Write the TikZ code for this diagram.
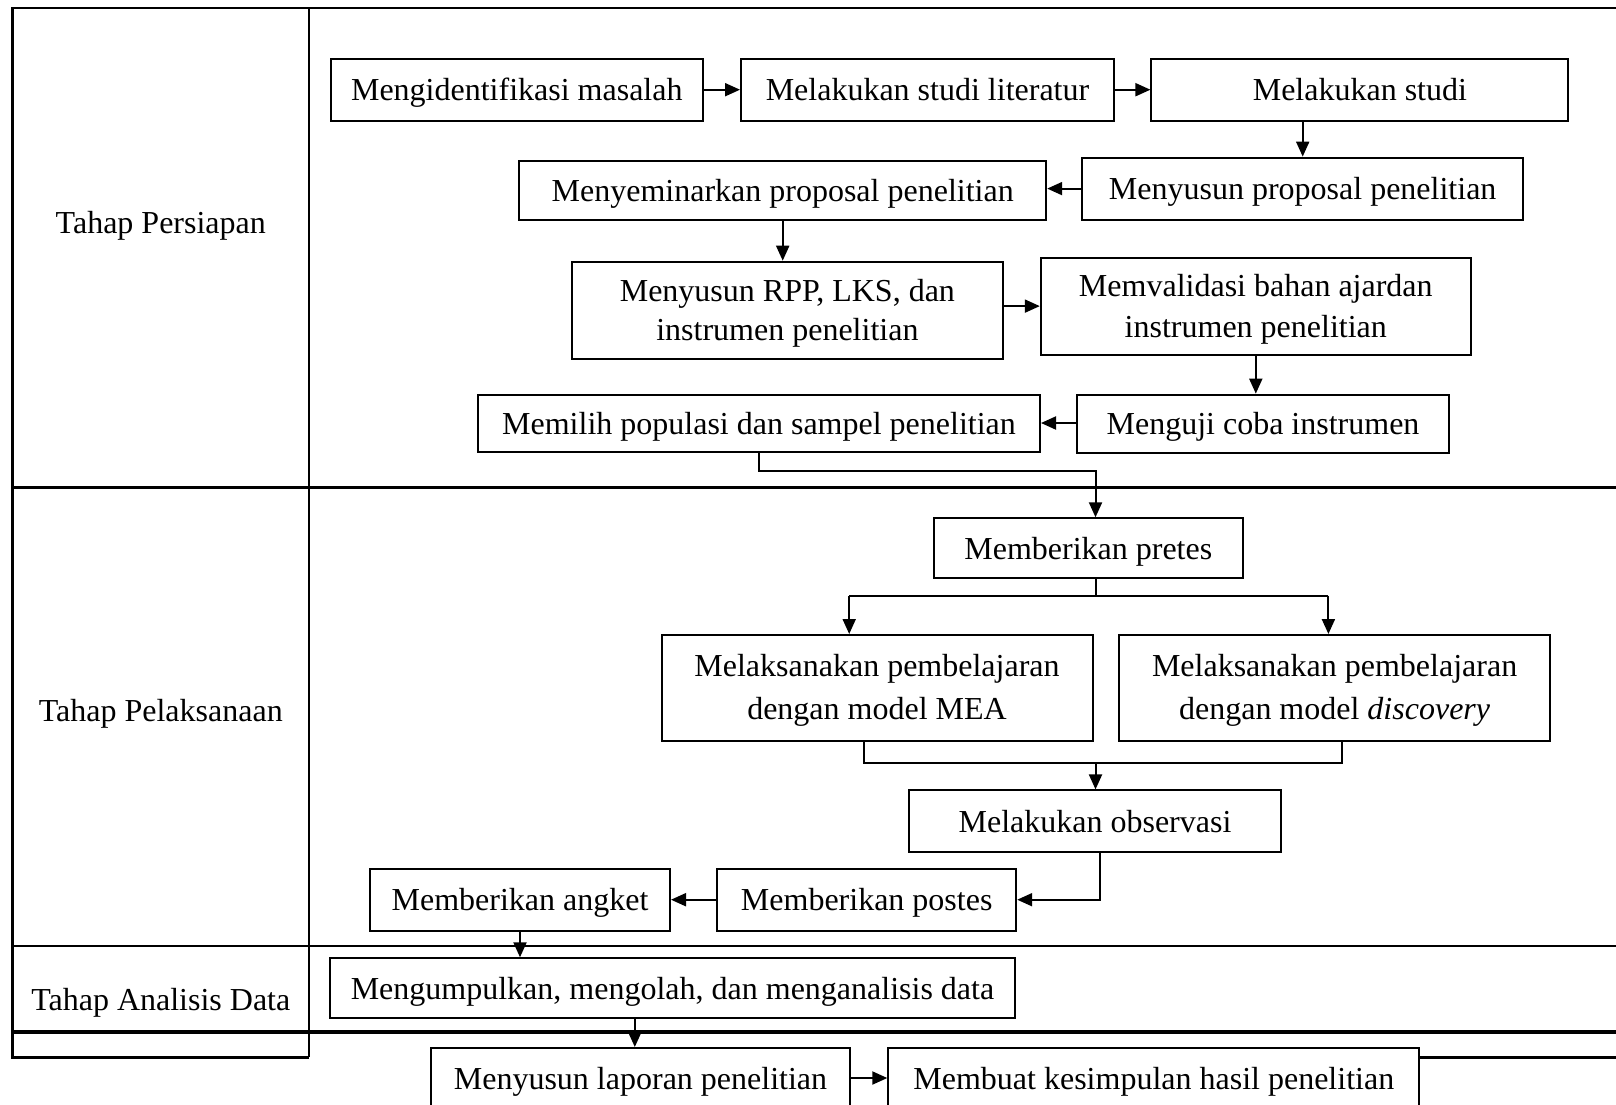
\documentclass[tikz,border=0pt]{standalone}
\usepackage{fontspec}
\setmainfont{Liberation Serif}
\usetikzlibrary{arrows.meta}
\begin{document}
\begin{tikzpicture}[x=0.5pt,y=-0.5pt,
  boxbase/.style={draw, fill=white, line width=1pt, inner sep=0pt, align=center,
              font=\fontsize{16}{21.6}\selectfont},
  box/.style={boxbase, text height=11pt, text depth=0pt},
  boxtwo/.style={boxbase},
  tline/.style={line width=1.2pt},
  arr/.style={line width=1pt, -{Triangle[length=7.5pt,width=6.5pt]}},
  conn/.style={line width=1pt},
  lbl/.style={text height=11pt, text depth=0pt, font=\fontsize{16}{20}\selectfont}]
\clip (0,0) rectangle (1616,1104);
\fill[white] (0,0) rectangle (1616,1104);
% table
\draw[tline] (1616,8.2) -- (12.4,8.2) -- (12.4,1057.4) -- (309,1057.4);
\draw[tline] (309,8.2) -- (309,1057.4);
\draw[tline] (12.4,487.5) -- (1616,487.5);
\draw[tline] (12.4,946) -- (1616,946);
\draw[line width=1.9pt] (12.4,1031.6) -- (1616,1031.6);
% phase labels
\node[lbl] (t1) at (160.8,222.6) {Tahap Persiapan};
\node[lbl] (t2) at (160.8,710) {Tahap Pelaksanaan};
\node[lbl] (t3) at (160.8,999.7) {Tahap Analisis Data};
% boxes
\node[box, minimum width=186pt, minimum height=31pt] (n1) at (516.8,89.7) {Mengidentifikasi masalah};
\node[box, minimum width=186.5pt, minimum height=31pt] (n2) at (927.5,89.7) {Melakukan studi literatur};
\node[box, minimum width=208.5pt, minimum height=31pt] (n3) at (1359.9,89.7) {Melakukan studi};
\node[box, minimum width=220.5pt, minimum height=31pt] (n4) at (1302.7,188.6) {Menyusun proposal penelitian};
\node[box, minimum width=263.5pt, minimum height=29.5pt] (n5) at (782.7,190.1) {Menyeminarkan proposal penelitian};
\node[boxtwo, text depth=-9pt, font=\fontsize{16}{19.6}\selectfont, minimum width=215.5pt, minimum height=48.5pt] (n6) at (787.4,310.2) {Menyusun RPP, LKS, dan\\instrumen penelitian};
\node[boxtwo, text depth=-9pt, font=\fontsize{16}{20.6}\selectfont, minimum width=215pt, minimum height=48.5pt] (n7) at (1255.8,306.1) {Memvalidasi bahan ajardan\\instrumen penelitian};
\node[box, minimum width=186pt, minimum height=29pt] (n8) at (1263,423.6) {Menguji coba instrumen};
\node[box, minimum width=281pt, minimum height=28.5pt] (n9) at (759,423) {Memilih populasi dan sampel penelitian};
\node[box, minimum width=154.5pt, minimum height=30pt] (n10) at (1088.3,548.3) {Memberikan pretes};
\node[boxtwo, text depth=1pt, minimum width=215.5pt, minimum height=53pt] (n11) at (877,688) {Melaksanakan pembelajaran\\dengan model MEA};
\node[boxtwo, text depth=1pt, minimum width=215.5pt, minimum height=53pt] (n12) at (1334.6,688) {Melaksanakan pembelajaran\\dengan model \textit{discovery}};
\node[box, minimum width=186pt, minimum height=31pt] (n13) at (1095,821.4) {Melakukan observasi};
\node[box, minimum width=149.5pt, minimum height=31pt] (n14) at (866.7,899.7) {Memberikan postes};
\node[box, minimum width=150pt, minimum height=31pt] (n15) at (520,899.7) {Memberikan angket};
\node[box, minimum width=342.5pt, minimum height=30pt] (n16) at (672.5,988.3) {Mengumpulkan, mengolah, dan menganalisis data};
\node[box, minimum width=209.5pt, minimum height=30pt] (n17) at (640.5,1078) {Menyusun laporan penelitian};
\node[box, minimum width=265.5pt, minimum height=30pt] (n18) at (1153.8,1078) {Membuat kesimpulan hasil penelitian};
% bottom border right part
\draw[tline] (n18.east |- 0,1057.4) -- (1616,1057.4);
% connectors
\draw[arr] (n1.east) -- (n2.west);
\draw[arr] (n2.east) -- (n3.west);
\draw[arr] (n3.south -| n4.north) -- (n4.north);
\draw[arr] (n4.west) -- (n4.west -| n5.east);
\draw[arr] (n5.south) -- (n5.south |- n6.north);
\draw[arr] (n6.east |- n7.west) -- (n7.west);
\draw[arr] (n7.south) -- (n7.south |- n8.north);
\draw[arr] (n8.west |- n9.east) -- (n9.east);
\coordinate (c1) at (1095.5,471);
\draw[arr] (n9.south) |- (c1) -- (c1 |- n10.north);
\coordinate (c2) at (1095.5,595.7);
\coordinate (s1) at (849.2,595.7);
\coordinate (s2) at (1328.4,595.7);
\draw[conn] (c2 |- n10.south) -- (c2);
\draw[conn] (s1) -- (s2);
\draw[arr] (s1) -- (s1 |- n11.north);
\draw[arr] (s2) -- (s2 |- n12.north);
\coordinate (j1) at (863.6,762.6);
\coordinate (j2) at (1341.8,762.6);
\coordinate (j3) at (1095.5,762.6);
\draw[conn] (j1 |- n11.south) -- (j1) -- (j2) -- (j2 |- n12.south);
\draw[arr] (j3) -- (j3 |- n13.north);
\coordinate (c3) at (1099.6,896.6);
\draw[arr] (c3 |- n13.south) |- (n14.east);
\draw[arr] (n14.west) -- (n15.east);
\draw[arr] (n15.south) -- (n15.south |- n16.north);
\coordinate (c4) at (634.8,1000);
\draw[arr] (c4 |- n16.south) -- (c4 |- n17.north);
\draw[arr] (n17.east) -- (n18.west);
\end{tikzpicture}
\end{document}
